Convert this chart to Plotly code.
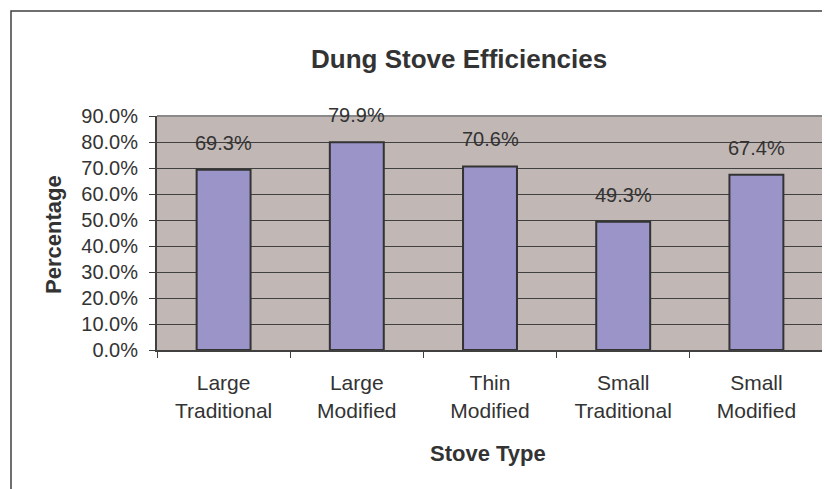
import plotly.graph_objects as go

categories = ["Large<br>Traditional", "Large<br>Modified", "Thin<br>Modified", "Small<br>Traditional", "Small<br>Modified"]
efficiency = [0.693, 0.799, 0.706, 0.493, 0.674]
y_ticks = [0.0, 0.1, 0.2, 0.3, 0.4, 0.5, 0.6, 0.7, 0.8, 0.9]

# page has an 8px body margin, so the figure is slightly smaller than the window
OFF = 8
W, H = 830 - OFF, 489 - OFF
ML, MR, MT, MB = 157 - OFF, 7, 116 - OFF, 139
PW = W - ML - MR
PH = H - MT - MB

FONT = "Liberation Sans, Arial, sans-serif"
TXT = "#333333"

fig = go.Figure()
fig.add_trace(go.Bar(
    x=categories, y=efficiency,
    marker=dict(color="#9B94C8", line=dict(color="#333333", width=2)),
    width=0.405,
))

for c, v in zip(categories, efficiency):
    fig.add_annotation(x=c, y=v, text=f"{v*100:.1f}%", showarrow=False,
                       xref="x", yref="y", yanchor="bottom", yshift=14,
                       font=dict(family=FONT, size=20, color=TXT))

def px_x(p):
    return (p - OFF - ML) / PW

def px_y(p):
    return 1 - (p - OFF - MT) / PH

fig.add_annotation(text="<b>Dung Stove Efficiencies</b>", xref="paper", yref="paper",
                   x=px_x(459), y=px_y(59), showarrow=False, xanchor="center", yanchor="middle",
                   font=dict(family=FONT, size=26, color=TXT))
fig.add_annotation(text="<b>Percentage</b>", xref="paper", yref="paper",
                   x=px_x(53), y=px_y(235), showarrow=False, textangle=-90,
                   xanchor="center", yanchor="middle",
                   font=dict(family=FONT, size=22, color=TXT))
fig.add_annotation(text="<b>Stove Type</b>", xref="paper", yref="paper",
                   x=px_x(488), y=px_y(453), showarrow=False,
                   xanchor="center", yanchor="middle",
                   font=dict(family=FONT, size=22, color=TXT))

# chart frame (extends past right/bottom edges as in the reference)
fig.add_shape(type="rect", xref="paper", yref="paper",
              x0=px_x(11), x1=px_x(860), y0=px_y(520), y1=px_y(11),
              line=dict(color="#404040", width=1.5), layer="below")
# plot area top/right border
fig.add_shape(type="line", xref="paper", yref="paper", x0=0, x1=1, y0=1, y1=1,
              line=dict(color="#8a8a8a", width=2))
fig.add_shape(type="line", xref="paper", yref="paper", x0=1, x1=1, y0=0, y1=1,
              line=dict(color="#8a8a8a", width=2))

fig.update_layout(
    width=W, height=H,
    margin=dict(l=ML, r=MR, t=MT, b=MB, pad=0),
    paper_bgcolor="white", plot_bgcolor="#C1B8B5",
    showlegend=False,
    font=dict(family=FONT, size=20, color=TXT),
)
fig.update_xaxes(
    type="category", showgrid=False,
    showline=True, linecolor="#404040", linewidth=2,
    ticks="outside", ticklen=6, tickcolor="#404040", tickson="boundaries",
    ticklabelstandoff=13,
    tickfont=dict(family=FONT, size=21, color=TXT),
)
fig.update_yaxes(
    range=[0, 0.9], tickvals=y_ticks, tickformat=".1%",
    showgrid=True, gridcolor="#404040", gridwidth=1,
    showline=True, linecolor="#404040", linewidth=2,
    ticks="outside", ticklen=6, tickcolor="#404040",
    ticklabelstandoff=7, zeroline=False,
    tickfont=dict(family=FONT, size=20, color=TXT),
)

fig.write_html("out.html")
